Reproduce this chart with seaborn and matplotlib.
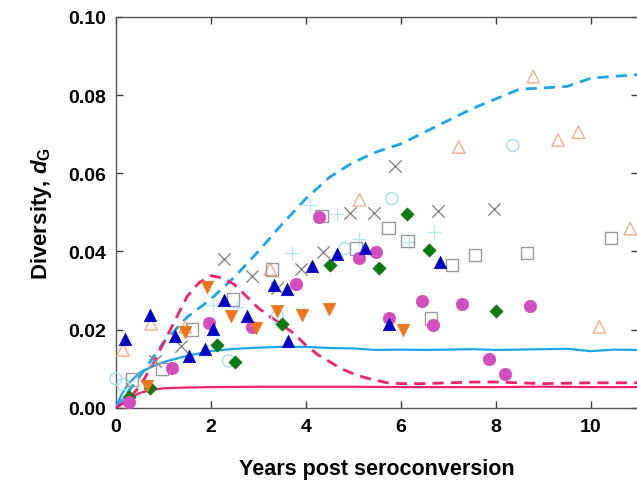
import matplotlib
matplotlib.use("Agg")
import matplotlib.pyplot as plt
import seaborn as sns
import pandas as pd

# ---------------- data ----------------
# filled blue triangles (up)
bt_x = [0.19, 0.72, 1.25, 1.54, 1.88, 2.05, 2.28, 2.77, 3.32, 3.61, 3.63, 4.12, 4.65, 5.24, 5.74, 6.82]
bt_y = [0.0176, 0.0238, 0.0184, 0.0133, 0.0151, 0.0202, 0.0276, 0.0235, 0.0315, 0.0304, 0.0171, 0.0363, 0.0394, 0.0409, 0.0215, 0.0373]
# filled orange triangles (down)
ot_x = [0.65, 1.46, 1.92, 2.43, 2.94, 3.40, 3.91, 4.48, 6.04]
ot_y = [0.0056, 0.0194, 0.0309, 0.0235, 0.0205, 0.0248, 0.0238, 0.0253, 0.0199]
# magenta circles
mc_x = [0.28, 1.18, 1.97, 2.87, 3.80, 4.27, 5.11, 5.47, 5.74, 6.44, 6.67, 7.29, 7.86, 8.19, 8.72]
mc_y = [0.0015, 0.0102, 0.0217, 0.0207, 0.0317, 0.0488, 0.0384, 0.0399, 0.0230, 0.0274, 0.0212, 0.0266, 0.0125, 0.0087, 0.0261]
# green diamonds
gd_x = [0.28, 0.72, 2.13, 2.51, 3.50, 4.50, 5.55, 6.12, 6.59, 8.00]
gd_y = [0.0028, 0.0051, 0.0161, 0.0118, 0.0215, 0.0366, 0.0358, 0.0496, 0.0404, 0.0248]
# open gray squares
gs_x = [0.34, 0.97, 1.60, 2.47, 3.29, 4.33, 5.05, 5.74, 6.14, 6.63, 7.08, 7.56, 8.66, 10.43]
gs_y = [0.0072, 0.0100, 0.0200, 0.0277, 0.0354, 0.0491, 0.0407, 0.0460, 0.0427, 0.0228, 0.0366, 0.0391, 0.0396, 0.0435]
# gray crosses
gx_x = [0.82, 1.37, 2.28, 2.87, 3.40, 3.89, 4.37, 4.92, 5.43, 5.87, 6.78, 7.96]
gx_y = [0.0120, 0.0159, 0.0381, 0.0338, 0.0307, 0.0356, 0.0399, 0.0499, 0.0499, 0.0619, 0.0504, 0.0509]
# open light-orange triangles
lo_x = [0.15, 0.74, 1.46, 3.25, 5.13, 7.22, 8.79, 9.31, 9.74, 10.18, 10.83]
lo_y = [0.0148, 0.0215, 0.0207, 0.0355, 0.0532, 0.0667, 0.0847, 0.0685, 0.0705, 0.0207, 0.0458]
# open light-cyan circles
lc_x = [0.00, 0.15, 2.37, 3.40, 4.82, 5.81, 8.36]
lc_y = [0.0074, 0.0060, 0.0120, 0.0233, 0.0407, 0.0535, 0.0671]
# light-cyan plus
lp_x = [2.05, 2.56, 3.70, 4.08, 4.65, 5.11, 6.17, 6.70]
lp_y = [0.0263, 0.0258, 0.0396, 0.0519, 0.0496, 0.0432, 0.0425, 0.0450]

# model curves
cd_x = [0, 0.5, 1, 1.5, 2, 2.5, 3, 3.5, 4, 4.5, 5, 5.5, 6, 6.5, 7, 7.5, 8, 8.5, 9, 9.5, 10, 10.5, 11]
cd_y = [0, 0.008, 0.0167, 0.0232, 0.0278, 0.0335, 0.0400, 0.0470, 0.0535, 0.0590, 0.0628, 0.0655,
        0.0675, 0.0705, 0.0735, 0.0765, 0.0790, 0.0815, 0.0818, 0.0822, 0.0843, 0.0848, 0.0852]
cs_x = [0, 0.1, 0.25, 0.5, 0.75, 1, 1.5, 2, 2.5, 3, 3.5, 4, 4.5, 5, 5.5, 6, 6.5, 7, 7.5, 8, 8.5, 9, 9.5, 10, 10.5, 11]
cs_y = [0, 0.003, 0.0060, 0.0090, 0.0105, 0.0117, 0.0133, 0.0145, 0.0151, 0.0154, 0.0156, 0.0156, 0.0153,
        0.0152, 0.0148, 0.0149, 0.0148, 0.0149, 0.0150, 0.0148, 0.0149, 0.0150, 0.0151, 0.0145, 0.0149, 0.0148]
pd_x = [0, 0.25, 0.5, 0.75, 1.0, 1.25, 1.5, 1.75, 2.0, 2.25, 2.5, 2.75, 3.0, 3.25, 3.5, 3.75, 4.0, 4.25,
        4.5, 4.75, 5.0, 5.25, 5.5, 5.75, 6, 6.5, 7, 7.5, 8, 8.5, 9, 9.5, 10, 10.5, 11]
pd_y = [0, 0.002, 0.0055, 0.0105, 0.0165, 0.0225, 0.0285, 0.0320, 0.0338, 0.0332, 0.0315, 0.0285, 0.0255,
        0.0233, 0.0212, 0.0190, 0.0160, 0.0136, 0.0118, 0.0100, 0.0087, 0.0077, 0.0070, 0.0063, 0.0062,
        0.0062, 0.0064, 0.0066, 0.0066, 0.0064, 0.0062, 0.0063, 0.0064, 0.0064, 0.0064]
ps_x = [0, 0.25, 0.5, 0.75, 1, 1.5, 2, 3, 4, 5, 6, 7, 8, 9, 10, 11]
ps_y = [0, 0.0022, 0.0038, 0.0046, 0.0050, 0.0052, 0.0053, 0.0054, 0.0054, 0.0054, 0.0053, 0.0053,
        0.0053, 0.0054, 0.0053, 0.0053]

x_ticks = [0, 2, 4, 6, 8, 10]
y_ticks = [0.00, 0.02, 0.04, 0.06, 0.08, 0.10]

# ---------------- style ----------------
sns.set_style("ticks")
plt.rcParams['font.family'] = ['Liberation Sans', 'DejaVu Sans']
plt.rcParams['text.color'] = 'black'
plt.rcParams['axes.labelcolor'] = 'black'
plt.rcParams['xtick.labelcolor'] = 'black'
plt.rcParams['ytick.labelcolor'] = 'black'
plt.rcParams['mathtext.fontset'] = 'custom'
plt.rcParams['mathtext.rm'] = 'Liberation Sans:bold'
plt.rcParams['mathtext.it'] = 'Liberation Sans:italic:bold'
plt.rcParams['mathtext.bf'] = 'Liberation Sans:bold'

fig = plt.figure(figsize=(6.37, 4.81), dpi=100)
ax = fig.add_axes([0.182, 0.150, 0.820, 0.813])

C_CYAN = '#1AA6EA'
C_PINK = '#F5206E'

def line(xs, ys, color, dashed, lw):
    df = pd.DataFrame({'x': xs, 'y': ys})
    sns.lineplot(data=df, x='x', y='y', ax=ax, color=color, lw=lw, zorder=3,
                 estimator=None, sort=False)
    if dashed:
        ax.lines[-1].set_dashes([4, 2.6])

line(cs_x, cs_y, C_CYAN, False, 1.6)
line(ps_x, ps_y, C_PINK, False, 1.6)
line(cd_x, cd_y, C_CYAN, True, 2.0)
line(pd_x, pd_y, C_PINK, True, 2.0)

def pts(xs, ys, marker, s, face, edge, lw=1.0):
    df = pd.DataFrame({'x': xs, 'y': ys})
    sns.scatterplot(data=df, x='x', y='y', ax=ax, marker=marker, s=s,
                    facecolor=face, edgecolor=edge, linewidth=lw, zorder=4, clip_on=False)

pts(lc_x, lc_y, 'o', 75, 'none', '#A8DEF6', 1.0)
pts(lp_x, lp_y, '+', 95, '#B8E8F8', '#B8E8F8', 1.0)
pts(lo_x, lo_y, '^', 80, 'none', '#F7AE8C', 1.0)
pts(gs_x, gs_y, 's', 80, 'none', '#9A9A9A', 1.0)
pts(gx_x, gx_y, 'x', 80, '#8A8A8A', '#8A8A8A', 1.0)
pts(gd_x, gd_y, 'D', 45, '#0B7A12', '#0B7A12', 0.5)
pts(mc_x, mc_y, 'o', 80, '#D24EBE', '#D24EBE', 0.5)
pts(ot_x, ot_y, 'v', 80, '#F07418', '#F07418', 0.5)
pts(bt_x, bt_y, '^', 80, '#0000C4', '#0000C4', 0.5)

ax.set_xlim(0, 11)
ax.set_ylim(0, 0.10)
ax.set_xticks(x_ticks)
ax.set_yticks(y_ticks)
ax.set_yticklabels([f"{v:.2f}" for v in y_ticks])
ax.tick_params(direction='in', top=True, right=True, length=5, width=1.0,
               color='#404040', labelsize=14, pad=7)
for lab in ax.get_xticklabels() + ax.get_yticklabels():
    lab.set_fontweight('bold')
for sp in ax.spines.values():
    sp.set_color('#555555')
    sp.set_linewidth(1.0)

ax.set_xlabel('Years post seroconversion', fontsize=15.5, fontweight='bold', labelpad=17)
ax.set_ylabel(r'Diversity, $\mathit{d}_{\mathrm{G}}$', fontsize=16, fontweight='bold', labelpad=10)

fig.savefig('out.png', dpi=100)
